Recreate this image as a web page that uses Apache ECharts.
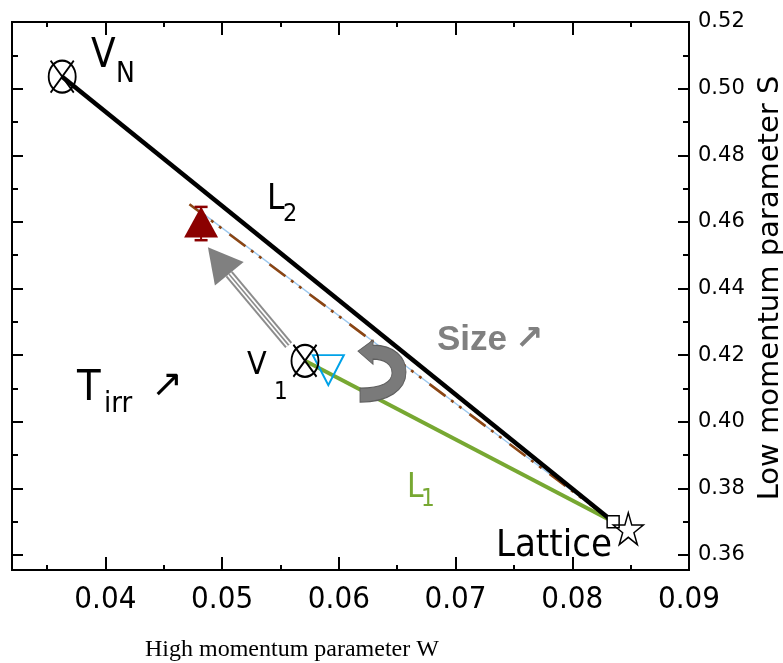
<!DOCTYPE html>
<html>
<head>
<meta charset="utf-8">
<title>W-S plot</title>
<script src="https://cdn.jsdelivr.net/npm/echarts@6/dist/echarts.min.js"></script>
<style>
  html, body { margin: 0; padding: 0; background: #fff; }
  #chart { width: 783px; height: 663px; }
</style>
</head>
<body>
<div id="chart"></div>
<script>
  // axis ranges and ticks
  const xRange = [0.032, 0.09];
  const yRange = [0.3555, 0.52];
  const xMajorTicks = [0.04, 0.05, 0.06, 0.07, 0.08, 0.09];
  const xMinorTicks = [0.035, 0.045, 0.055, 0.065, 0.075, 0.085];
  const yMajorTicks = [0.36, 0.38, 0.40, 0.42, 0.44, 0.46, 0.48, 0.50, 0.52];
  const yMinorTicks = [0.37, 0.39, 0.41, 0.43, 0.45, 0.47, 0.49, 0.51];

  // points (W, S)
  const vN = [0.0363, 0.5036];
  const v1 = [0.0571, 0.4183];
  const lattice = [0.0835, 0.3700];
  const latticeStar = [0.0848, 0.3679];
  const tIrrPoint = [0.0482, 0.4600];
  const tIrrErr = [0.4545, 0.4645];
  const sizePoint = [0.0591, 0.4155];
  const dashStart = [0.0472, 0.4653];
  const blueStart = [0.0476, 0.4645];

  // arrows
  const arrowShaft = [[0.0557, 0.4230], [0.0506, 0.4443]];
  const arrowHead = [0.0497, 0.4484];
  const curlArrow = [0.0637, 0.4152];

  const narrow = '"Liberation Sans Narrow", "DejaVu Sans Condensed", sans-serif';
  const circleX = 'path://M1,16 A14,15 0 1 1 29,16 A14,15 0 1 1 1,16 Z M3,1 L27,31 M27,1 L3,31';
  const starPath = 'path://M50,0 L61,35 L98,35 L68,57 L79,91 L50,70 L21,91 L32,57 L2,35 L39,35 Z';
  const curlPath = 'path://M0,11 L15,0 L15,5 C36,5 48,17 48,32 C48,50 30,62 2,62 L2,48 C24,48 34,42 34,33 C34,24 26,19 15,19 L15,24 Z';

  const chart = echarts.init(document.getElementById('chart'));

  function xAx(pos, vals, len, labels) {
    return {
      type: 'value', position: pos, min: xRange[0], max: xRange[1],
      axisLine: { show: true, onZero: false, lineStyle: { color: '#000', width: 2 } },
      axisTick: { show: true, inside: true, length: len, customValues: vals, lineStyle: { color: '#000', width: 2 } },
      axisLabel: labels ? {
        show: true, customValues: vals, margin: 14, fontSize: 31, color: '#000',
        fontFamily: narrow, formatter: v => v.toFixed(2)
      } : { show: false },
      splitLine: { show: false }
    };
  }
  function yAx(pos, vals, len, labels) {
    return {
      type: 'value', position: pos, min: yRange[0], max: yRange[1],
      axisLine: { show: true, onZero: false, lineStyle: { color: '#000', width: 2 } },
      axisTick: { show: true, inside: true, length: len, customValues: vals, lineStyle: { color: '#000', width: 2 } },
      axisLabel: labels ? {
        show: true, customValues: vals, margin: 9, fontSize: 21, color: '#000',
        fontFamily: '"DejaVu Sans", sans-serif', formatter: v => v.toFixed(2)
      } : { show: false },
      name: labels ? 'Low momentum parameter S' : '',
      nameLocation: 'middle', nameRotate: 90, nameGap: 62,
      nameTextStyle: { fontSize: 29, color: '#000', fontFamily: '"DejaVu Sans", sans-serif', padding: [0, 0, 0, 16] },
      splitLine: { show: false }
    };
  }

  function seg(name, data, color, width, type, z) {
    return {
      name: name, type: 'line', data: data, showSymbol: false, symbol: 'none',
      lineStyle: { color: color, width: width, type: type || 'solid' },
      z: z || 2, silent: true
    };
  }

  function pts(name, data, symbol, size, style, z, rotate) {
    return {
      name: name, type: 'scatter', data: data, symbol: symbol, symbolSize: size,
      symbolRotate: rotate || 0,
      itemStyle: Object.assign({ opacity: 1 }, style), z: z, silent: true
    };
  }

  function txt(t, x, y, size, opts) {
    opts = opts || {};
    return {
      type: 'text', x: x, y: y, z: 100,
      style: {
        text: t, fontSize: size, fontFamily: opts.font || narrow,
        fontWeight: opts.bold ? 'bold' : 'normal',
        fill: opts.color || '#000', align: opts.align || 'left', verticalAlign: 'middle'
      }
    };
  }

  const clear = 'rgba(255,255,255,0)';

  chart.setOption({
    animation: false,
    backgroundColor: '#fff',
    grid: { left: 12, right: 94, top: 22, bottom: 93, outerBoundsMode: 'none', containLabel: false },
    xAxis: [
      xAx('bottom', xMajorTicks, 13, true),
      xAx('bottom', xMinorTicks, 5, false),
      xAx('top', xMajorTicks, 13, false),
      xAx('top', xMinorTicks, 5, false)
    ],
    yAxis: [
      yAx('right', yMajorTicks, 11, true),
      yAx('right', yMinorTicks, 6, false),
      yAx('left', yMajorTicks, 11, false),
      yAx('left', yMinorTicks, 6, false)
    ],
    graphic: [
      txt('V', 91, 57, 40),
      txt('N', 116, 75, 28),
      txt('L', 267, 200, 35),
      txt('2', 283, 214, 25),
      txt('T', 77, 389, 43),
      txt('irr', 104, 404, 29),
      txt('\u2197', 151, 386, 38, { font: '"DejaVu Sans", sans-serif' }),
      txt('V', 247, 366, 32),
      txt('1', 274, 393, 24),
      txt('Size', 437, 340, 35, { bold: true, color: '#808080', font: '"Liberation Sans", sans-serif' }),
      txt('\u2197', 515, 340, 34, { bold: true, color: '#808080', font: '"DejaVu Sans", sans-serif' }),
      txt('L', 407, 488, 33, { color: '#77a832' }),
      txt('1', 421, 500, 24, { color: '#77a832' }),
      txt('Lattice', 612, 546, 38, { align: 'right' }),
      txt('High momentum parameter W', 145, 650, 24, { font: '"Liberation Serif", serif' })
    ],
    series: [
      seg('L2', [vN, lattice], '#000', 4.5, 'solid', 3),
      seg('blue', [blueStart, lattice], '#9cc8ee', 1.3, 'solid', 2),
      seg('brown', [dashStart, lattice], '#8b4513', 2.6, [20, 7, 3, 7, 3, 10], 2),
      seg('L1', [v1, lattice], '#77a832', 4, 'solid', 2),
      seg('shaftOuter', arrowShaft, '#8c8c8c', 9, 'solid', 4),
      seg('shaftGap', arrowShaft, '#fff', 5, 'solid', 4),
      seg('shaftInner', arrowShaft, '#8c8c8c', 1.6, 'solid', 4),
      pts('arrowHead', [arrowHead], 'triangle', [37, 34], { color: '#808080' }, 5, 39),
      pts('curl', [curlArrow], curlPath, [48, 62], { color: '#7a7a7a', borderColor: '#5e5e5e', borderWidth: 1 }, 5),
      {
        name: 'err', type: 'line', data: [[tIrrPoint[0], tIrrErr[0]], [tIrrPoint[0], tIrrErr[1]]],
        symbol: 'rect', symbolSize: [13, 2.5], showSymbol: true,
        itemStyle: { color: '#8b0000' }, lineStyle: { color: '#8b0000', width: 2 }, z: 6, silent: true
      },
      pts('Tirr', [tIrrPoint], 'triangle', [34, 31], { color: '#8b0000' }, 6),
      pts('size', [sizePoint], 'path://M0,0 L30,0 L15,30 Z', [31, 30],
        { color: clear, borderColor: '#00a2e8', borderWidth: 2 }, 7),
      pts('V', [vN, v1], circleX, [27, 32], { color: clear, borderColor: '#000', borderWidth: 2 }, 8),
      pts('latticeSq', [lattice], 'rect', 12, { color: '#fff', borderColor: '#000', borderWidth: 1.5 }, 8),
      pts('latticeStar', [latticeStar], starPath, [30, 32], { color: clear, borderColor: '#000', borderWidth: 1.5 }, 8)
    ]
  });
</script>
</body>
</html>
